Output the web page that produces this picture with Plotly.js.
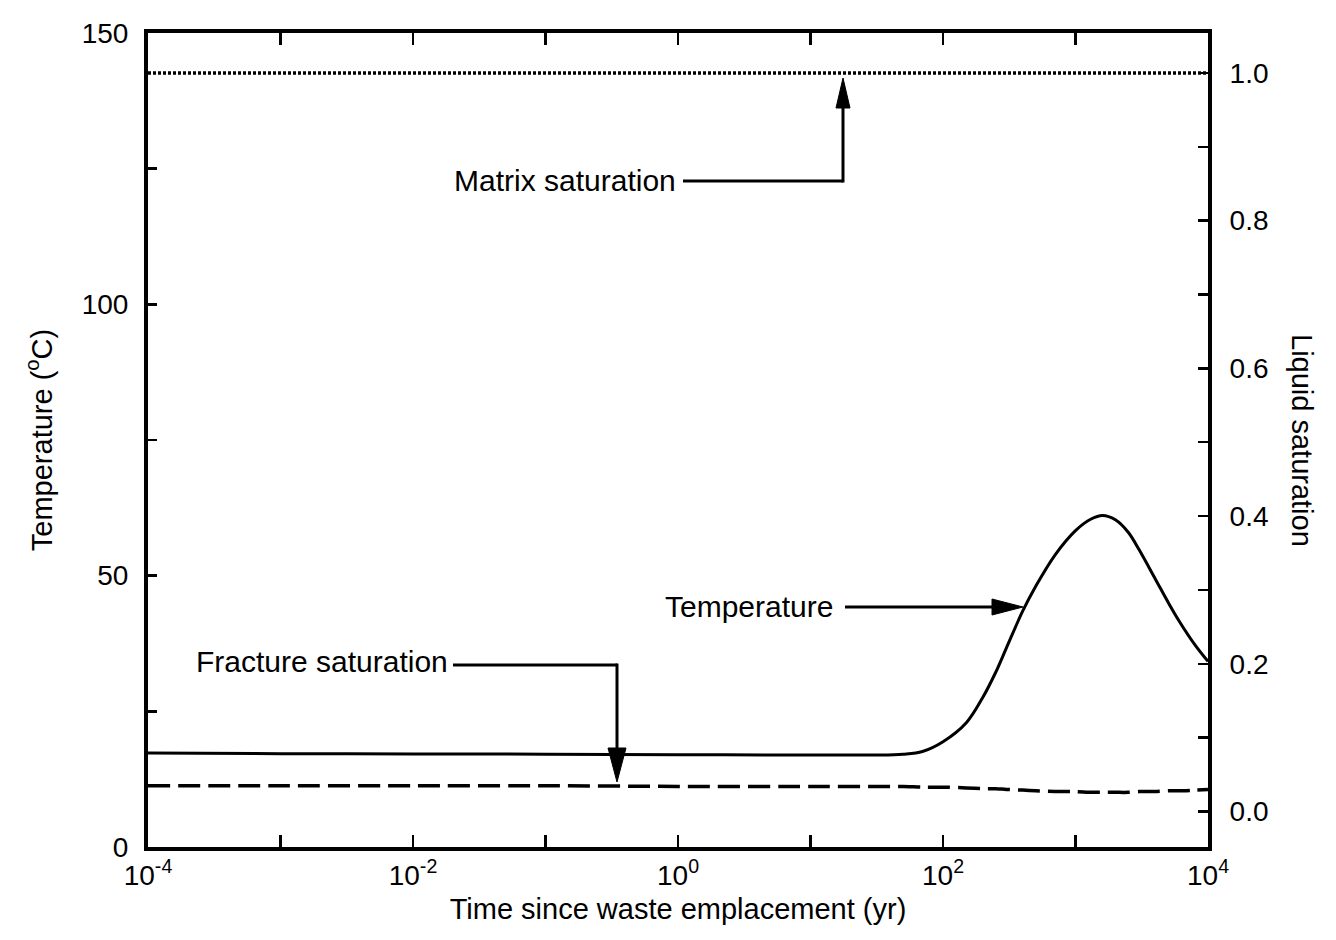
<!DOCTYPE html>
<html>
<head>
<meta charset="utf-8">
<script src="https://cdn.plot.ly/plotly-3.0.1.min.js"></script>
<style>
  html, body { margin: 0; padding: 0; background: #ffffff; }
  #chart { width: 1336px; height: 940px; }
</style>
</head>
<body>
<div id="chart"></div>
<script>
// Time history after waste emplacement: temperature (left axis) and
// liquid saturation in fractures and matrix (right axis).

const timeYr = [1e-4, 1e-3, 1e-2, 1e-1, 1, 10, 30, 50, 70, 100, 150, 200, 250, 300,
                400, 500, 700, 1000, 1300, 1600, 2000, 2500, 3000, 4000, 5000, 6000, 8000, 10000];

const temperatureC = [17.3, 17.2, 17.15, 17.1, 17.0, 16.95, 16.95, 17.1, 17.6, 19.4, 22.9, 27.6, 32.2, 36.6,
                      43.5, 48.0, 53.8, 58.3, 60.4, 61.1, 60.3, 58.0, 54.9, 49.4, 45.1, 41.8, 37.2, 34.2];

const fractureSaturation = [0.035, 0.035, 0.035, 0.035, 0.034, 0.034, 0.034, 0.034, 0.033, 0.033, 0.032, 0.031, 0.031, 0.030,
                            0.029, 0.028, 0.027, 0.027, 0.026, 0.026, 0.026, 0.026, 0.027, 0.027, 0.028, 0.028, 0.029, 0.030];

const matrixTimeYr = [1e-4, 1e-2, 1, 1e2, 1e4];
const matrixSaturation = [1.0, 1.0, 1.0, 1.0, 1.0];

// Axis ticks: every decade / 25 degC / 0.1 saturation, labels on every other one
const decadeTicks = [1e-4, 1e-3, 1e-2, 1e-1, 1, 1e1, 1e2, 1e3, 1e4];
const decadeLabels = ['10<sup>-4</sup>', '', '10<sup>-2</sup>', '', '10<sup>0</sup>', '',
                      '10<sup>2</sup>', '', '10<sup>4</sup>'];
const tempTicks = [0, 25, 50, 75, 100, 125, 150];
const tempLabels = ['0', '', '50', '', '100', '', '150'];
const satTicks = [0, 0.1, 0.2, 0.3, 0.4, 0.5, 0.6, 0.7, 0.8, 0.9, 1.0];
const satLabels = ['0.0', '', '0.2', '', '0.4', '', '0.6', '', '0.8', '', '1.0'];

const FONT = 'Liberation Sans, Arial, Helvetica, sans-serif';

// Plot frame in page pixels, used to place callouts in paper units
const L = 148, R = 1208, T = 33, B = 847;
const px = X => (X - L) / (R - L);
const py = Y => (B - Y) / (B - T);

const traces = [
  {
    x: timeYr, y: temperatureC, yaxis: 'y', mode: 'lines', name: 'Temperature',
    line: { color: '#000', width: 3, shape: 'spline', smoothing: 1 }
  },
  {
    x: timeYr, y: fractureSaturation, yaxis: 'y2', mode: 'lines', name: 'Fracture saturation',
    line: { color: '#000', width: 3.5, dash: '22px,8px', shape: 'spline', smoothing: 0.6 }
  },
  {
    x: matrixTimeYr, y: matrixSaturation, yaxis: 'y2', mode: 'lines', name: 'Matrix saturation',
    line: { color: '#000', width: 3.5, dash: '3px,2px' }
  }
];

function seg(x0, y0, x1, y1) {
  return { type: 'line', xref: 'paper', yref: 'paper',
           x0: px(x0), y0: py(y0), x1: px(x1), y1: py(y1),
           line: { color: '#000', width: 3 } };
}
function head(tip, b1, b2) {
  const p = ([X, Y]) => px(X) + ',' + py(Y);
  return { type: 'path', xref: 'paper', yref: 'paper',
           path: 'M' + p(tip) + ' L' + p(b1) + ' L' + p(b2) + ' Z',
           fillcolor: '#000', line: { color: '#000', width: 1 } };
}

const shapes = [
  // Matrix saturation callout
  seg(683, 181, 843, 181), seg(843, 182.5, 843, 100),
  head([843, 78], [836, 108], [850, 108]),
  // Temperature callout
  seg(845, 607, 998, 607),
  head([1023, 607], [992, 599], [992, 615]),
  // Fracture saturation callout
  seg(453, 665, 617, 665), seg(617, 663.5, 617, 752),
  head([617, 782], [608, 748], [626, 748])
];

const label = (text, X, Y) => ({
  text, xref: 'paper', yref: 'paper', x: px(X), y: py(Y),
  xanchor: 'right', yanchor: 'middle', showarrow: false,
  font: { family: FONT, size: 30, color: '#000' }
});

const annotations = [
  label('Matrix saturation', 678, 181),
  label('Temperature', 835, 606),
  label('Fracture saturation', 450, 661),
  {
    text: 'Liquid saturation', xref: 'paper', yref: 'paper',
    x: px(1302), y: 0.5, xanchor: 'center', yanchor: 'middle',
    textangle: 90, showarrow: false,
    font: { family: FONT, size: 29, color: '#000' }
  }
];

const layout = {
  width: 1336, height: 940,
  margin: { l: L, r: 1336 - R, t: T, b: 940 - B, pad: 0 },
  paper_bgcolor: '#fff', plot_bgcolor: '#fff',
  showlegend: false,
  font: { family: FONT, color: '#000' },
  xaxis: {
    type: 'log', range: [-4, 4],
    tickmode: 'array', tickvals: decadeTicks, ticktext: decadeLabels,
    ticks: 'inside', ticklen: 12, tickwidth: 2.5, tickcolor: '#000',
    showline: true, linewidth: 4, linecolor: '#000', mirror: 'ticks',
    showgrid: false, zeroline: false,
    tickfont: { family: FONT, size: 28, color: '#000' },
    title: { text: 'Time since waste emplacement (yr)', font: { family: FONT, size: 29, color: '#000' }, standoff: 10 }
  },
  yaxis: {
    range: [0, 150],
    tickmode: 'array', tickvals: tempTicks, ticktext: tempLabels,
    ticks: 'inside', ticklen: 9, tickwidth: 2.5, tickcolor: '#000',
    showline: true, linewidth: 4, linecolor: '#000',
    showgrid: false, zeroline: false, ticklabelstandoff: 10,
    tickfont: { family: FONT, size: 28, color: '#000' },
    title: { text: 'Temperature (<sup>o</sup>C)', font: { family: FONT, size: 29, color: '#000' }, standoff: 22 }
  },
  yaxis2: {
    overlaying: 'y', side: 'right',
    range: [-0.048, 1.054],
    tickmode: 'array', tickvals: satTicks, ticktext: satLabels,
    ticks: 'inside', ticklen: 10, tickwidth: 2.5, tickcolor: '#000',
    showline: true, linewidth: 4, linecolor: '#000',
    showgrid: false, zeroline: false, ticklabelstandoff: 12,
    tickfont: { family: FONT, size: 28, color: '#000' }
  },
  shapes, annotations
};

Plotly.newPlot('chart', traces, layout, { staticPlot: true, displayModeBar: false });
</script>
</body>
</html>
